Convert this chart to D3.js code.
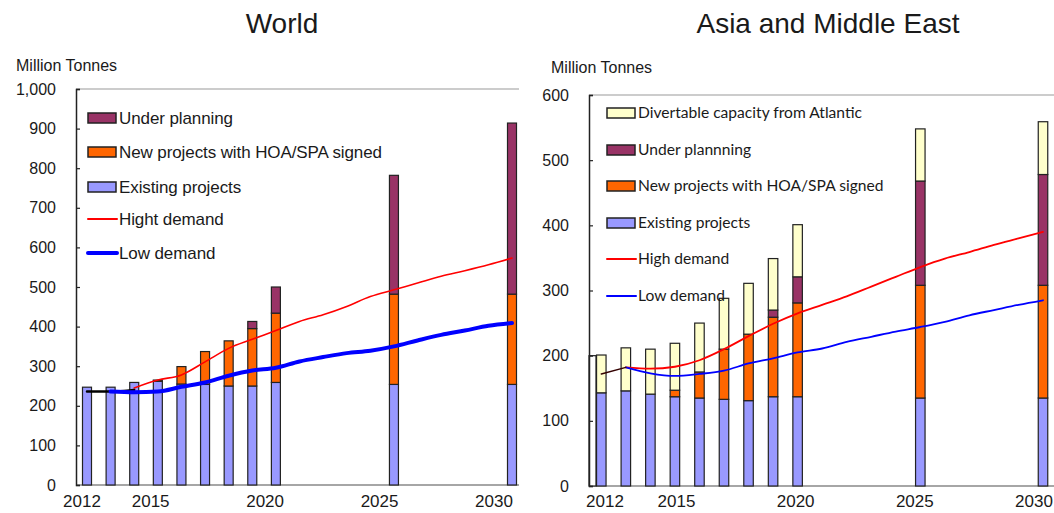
<!DOCTYPE html>
<html>
<head>
<meta charset="utf-8">
<script src="https://cdn.jsdelivr.net/npm/d3@7"></script>
<style>
body { margin: 0; background: #fff; }
text { font-family: "Liberation Sans", Arial, sans-serif; fill: #1a1a1a; }
</style>
</head>
<body>
<div id="chart"></div>
<script>
var width = 1054, height = 513;

// 年份（柱子）
var years = [2012, 2013, 2014, 2015, 2016, 2017, 2018, 2019, 2020, 2025, 2030];
var tickYears = [2012, 2015, 2020, 2025, 2030];

// World
var worldExisting = [247, 247, 259, 262, 255, 254, 250, 250, 259, 254, 254];
var worldNew      = [0, 0, 0, 3, 44, 83, 114, 145, 175, 228, 228];
var worldPlanning = [0, 0, 0, 0, 0, 0, 0, 18, 66, 300, 432];
var worldActualYears = [2012, 2013, 2014];
var worldActual      = [236, 236, 240];
var worldHighYears = [2014, 2015, 2016, 2017, 2018, 2019, 2020, 2021, 2022, 2023, 2024, 2025, 2026, 2027, 2028, 2029, 2030];
var worldHigh      = [245, 265, 278, 311, 345, 368, 390, 413, 430, 451, 476, 493, 510, 527, 541, 556, 573];
var worldLowYears = [2013, 2014, 2015, 2016, 2017, 2018, 2019, 2020, 2021, 2022, 2023, 2024, 2025, 2026, 2027, 2028, 2029, 2030];
var worldLow      = [236, 234, 236, 248, 259, 276, 289, 296, 312, 323, 333, 339, 350, 365, 379, 390, 402, 409];
var worldTicks = [0, 100, 200, 300, 400, 500, 600, 700, 800, 900, 1000];

// Asia and Middle East
var asiaExisting = [143, 146, 141, 137, 135, 133, 131, 137, 137, 135, 135];
var asiaNew      = [0, 0, 0, 10, 40, 77, 102, 122, 144, 173, 173];
var asiaPlanning = [0, 0, 0, 0, 0, 0, 0, 11, 40, 160, 170];
var asiaDivert   = [58, 66, 69, 72, 75, 78, 78, 79, 80, 80, 81];
var asiaActualYears = [2012, 2013];
var asiaActual      = [172, 182];
var asiaDemandYears = [2013, 2014, 2015, 2016, 2017, 2018, 2019, 2020, 2021, 2022, 2023, 2024, 2025, 2026, 2027, 2028, 2029, 2030];
var asiaHigh = [182, 180, 183, 193, 210, 230, 249, 265, 278, 291, 306, 321, 336, 349, 359, 370, 380, 390];
var asiaLow  = [182, 173, 169, 172, 177, 188, 196, 205, 211, 221, 229, 237, 244, 252, 262, 270, 278, 285];
var asiaTicks = [0, 100, 200, 300, 400, 500, 600];

var colExisting = "#9999ff", colNew = "#ff6600", colPlanning = "#993366", colDivert = "#ffffcc";

var svg = d3.select("#chart").append("svg")
    .attr("width", width).attr("height", height);

// 画一个面板
function panel(o) {
    var g = svg.append("g");
    var x = d3.scaleLinear().domain([2012, 2030]).range(o.xRange);
    var xl = d3.scaleLinear().domain([2012, 2030]).range(o.labelRange);
    var y = d3.scaleLinear().domain([0, o.yMax]).range([o.bottom, o.top]);

    // title
    g.append("text").attr("x", o.titleX).attr("y", 33)
        .attr("text-anchor", "middle").style("font-size", "28px").text(o.title);
    g.append("text").attr("x", o.unitX).attr("y", o.unitY)
        .style("font-size", "16px").text("Million Tonnes");

    // frame
    g.append("line").attr("x1", o.left).attr("x2", o.right)
        .attr("y1", o.top).attr("y2", o.top).attr("stroke", "#999").attr("stroke-width", 1.2);
    g.append("line").attr("x1", o.left).attr("x2", o.right)
        .attr("y1", o.bottom).attr("y2", o.bottom).attr("stroke", "#888").attr("stroke-width", 1.5);

    if (o.ghost) {
        g.append("rect").attr("x", o.left).attr("y", y(o.ghost))
            .attr("width", 7).attr("height", y(0) - y(o.ghost))
            .attr("fill", "#fff").attr("stroke", "#222").attr("stroke-width", 1.2);
    }

    // y axis
    var yAxis = d3.axisLeft(y).tickValues(o.yTicks).tickSize(-4).tickPadding(20)
        .tickFormat(d3.format(","));
    var ya = g.append("g").attr("transform", "translate(" + o.left + ",0)").call(yAxis);
    ya.select(".domain").attr("stroke", "#222").attr("stroke-width", 1.5);
    ya.selectAll(".tick line").attr("stroke", "#222").attr("stroke-width", 1.2);
    ya.selectAll("text").style("font-size", "16px").attr("fill", "#1a1a1a");

    // x labels
    g.selectAll(".xl").data(tickYears).enter().append("text")
        .attr("x", function(d){ return xl(d); })
        .attr("y", 507).attr("text-anchor", "middle")
        .style("font-size", "17px").text(function(d){ return d; });

    // stacked bars
    var keys = o.series.map(function(s){ return s.key; });
    var rows = years.map(function(yr, i) {
        var r = { year: yr };
        o.series.forEach(function(s){ r[s.key] = s.values[i]; });
        return r;
    });
    var stack = d3.stack().keys(keys)(rows);
    stack.forEach(function(layer, li) {
        g.append("g").selectAll("rect").data(layer.filter(function(d){ return d[1] - d[0] > 0; }))
            .enter().append("rect")
            .attr("x", function(d){ return x(d.data.year) - o.barW / 2; })
            .attr("y", function(d){ return y(d[1]); })
            .attr("width", o.barW)
            .attr("height", function(d){ return y(d[0]) - y(d[1]); })
            .attr("fill", o.series[li].color)
            .attr("stroke", "#222").attr("stroke-width", 1.2);
    });

    // lines
    o.lines.forEach(function(l) {
        var pts = l.years.map(function(yr, i){ return [x(yr), y(l.values[i])]; });
        g.append("path").datum(pts)
            .attr("d", d3.line().curve(d3.curveMonotoneX))
            .attr("fill", "none").attr("stroke", l.color)
            .attr("stroke-width", l.w).attr("stroke-linecap", "round");
    });

    // legend
    var lg = g.append("g");
    o.legend.forEach(function(it, i) {
        var cy = o.legY[i];
        if (it.type === "box") {
            lg.append("rect").attr("x", o.legX).attr("y", cy - 5)
                .attr("width", 28).attr("height", 10)
                .attr("fill", it.color).attr("stroke", "#222").attr("stroke-width", 1.5);
        } else {
            lg.append("line").attr("x1", o.legX).attr("x2", o.legX + 29)
                .attr("y1", cy).attr("y2", cy)
                .attr("stroke", it.color).attr("stroke-width", it.w).attr("stroke-linecap", "round");
        }
        lg.append("text").attr("x", o.legX + 31).attr("y", cy)
            .attr("dy", "0.35em")
            .style("font-family", o.legFont).style("font-size", o.legSize)
            .style("letter-spacing", o.legSpacing)
            .text(it.label);
    });
}

panel({
    title: "World", titleX: 282, unitX: 16, unitY: 71,
    left: 76, right: 519, top: 89, bottom: 485,
    xRange: [87, 512], labelRange: [82, 494], yMax: 1000, yTicks: worldTicks, barW: 9,
    series: [
        { key: "existing", values: worldExisting, color: colExisting },
        { key: "new", values: worldNew, color: colNew },
        { key: "planning", values: worldPlanning, color: colPlanning }
    ],
    lines: [
        { years: worldHighYears, values: worldHigh, color: "#ff0000", w: 1.6 },
        { years: worldActualYears, values: worldActual, color: "#000", w: 2.5 },
        { years: worldLowYears, values: worldLow, color: "#0000ff", w: 4 }
    ],
    legX: 88, legY: [118, 152, 187, 219, 253],
    legFont: "Liberation Sans, Arial, sans-serif", legSize: "17px", legSpacing: "-0.1px",
    legend: [
        { type: "box", color: colPlanning, label: "Under planning" },
        { type: "box", color: colNew, label: "New projects with HOA/SPA signed" },
        { type: "box", color: colExisting, label: "Existing projects" },
        { type: "line", color: "#ff0000", w: 2, label: "Hight demand" },
        { type: "line", color: "#0000ff", w: 4, label: "Low demand" }
    ]
});

panel({
    title: "Asia and Middle East", titleX: 828, unitX: 551, unitY: 73,
    left: 589, right: 1054, top: 95, bottom: 486,
    xRange: [601.3, 1043], labelRange: [605, 1034], yMax: 600, yTicks: asiaTicks, barW: 9.5,
    ghost: 200,
    series: [
        { key: "existing", values: asiaExisting, color: colExisting },
        { key: "new", values: asiaNew, color: colNew },
        { key: "planning", values: asiaPlanning, color: colPlanning },
        { key: "divert", values: asiaDivert, color: colDivert }
    ],
    lines: [
        { years: asiaDemandYears, values: asiaHigh, color: "#ff0000", w: 1.8 },
        { years: asiaDemandYears, values: asiaLow, color: "#0000ff", w: 1.8 },
        { years: asiaActualYears, values: asiaActual, color: "#330000", w: 1.5 }
    ],
    legX: 607, legY: [113, 150, 186, 223, 259, 296],
    legFont: "Lato, sans-serif", legSize: "15.6px", legSpacing: "0px",
    legend: [
        { type: "box", color: colDivert, label: "Divertable capacity from Atlantic" },
        { type: "box", color: colPlanning, label: "Under plannning" },
        { type: "box", color: colNew, label: "New projects with  HOA/SPA signed" },
        { type: "box", color: colExisting, label: "Existing projects" },
        { type: "line", color: "#ff0000", w: 2, label: "High demand" },
        { type: "line", color: "#0000ff", w: 2, label: "Low demand" }
    ]
});
</script>
</body>
</html>
